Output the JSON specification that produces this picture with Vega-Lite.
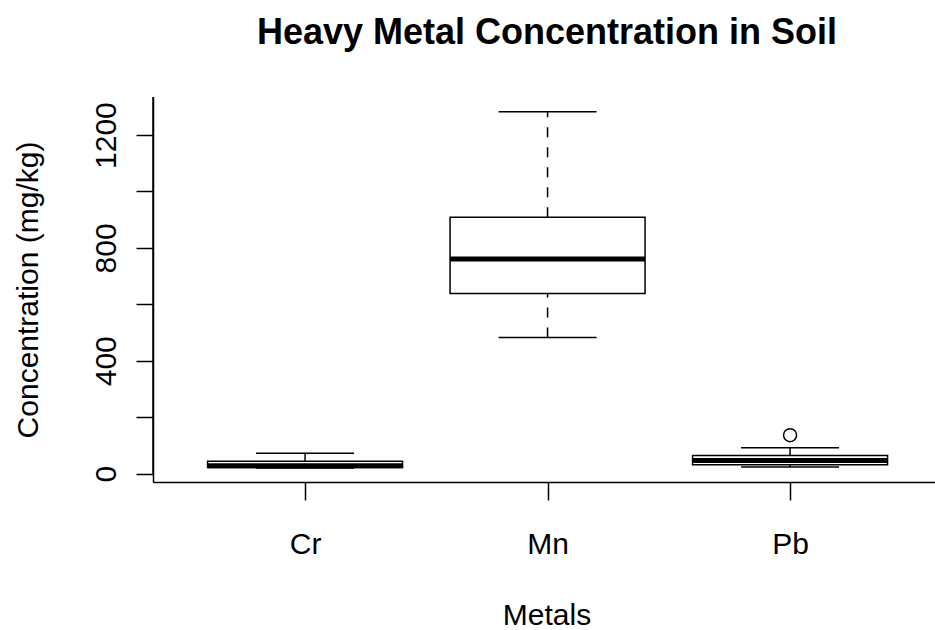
{
  "$schema": "https://vega.github.io/schema/vega-lite/v6.json",
  "autosize": {"type": "none"},
  "width": 782,
  "height": 385,
  "padding": {"left": 153, "top": 97, "right": 0, "bottom": 148},
  "background": "white",
  "config": {"view": {"stroke": null}, "font": "Liberation Sans"},
  "title": {
    "text": "Heavy Metal Concentration in Soil",
    "fontSize": 36,
    "fontWeight": "bold",
    "color": "black",
    "baseline": "alphabetic",
    "offset": 16,
    "frame": "group",
    "anchor": "middle",
    "dx": 3
  },
  "datasets": {
    "boxes": [
      {"metal": "Cr", "lower": 20, "q1": 21, "median": 28, "q3": 44, "upper": 72},
      {"metal": "Mn", "lower": 482, "q1": 638, "median": 761, "q3": 909, "upper": 1283},
      {"metal": "Pb", "lower": 23, "q1": 31, "median": 46, "q3": 64, "upper": 91}
    ],
    "outliers": [
      {"metal": "Pb", "value": 136}
    ]
  },
  "encoding": {
    "x": {
      "field": "metal",
      "type": "nominal",
      "sort": ["Cr", "Mn", "Pb"],
      "scale": {"type": "point", "padding": 0.6124, "align": 0.512, "domain": ["Cr", "Mn", "Pb"]},
      "axis": {
        "orient": "bottom",
        "title": "Metals",
        "labelAngle": 0,
        "grid": false,
        "domainColor": "black",
        "domainWidth": 1.5,
        "tickColor": "black",
        "tickWidth": 1.5,
        "tickSize": 18,
        "labelFontSize": 30,
        "labelColor": "black",
        "labelBaseline": "alphabetic",
        "labelPadding": 53,
        "titleFontSize": 30,
        "titleFontWeight": "normal",
        "titleColor": "black",
        "titleBaseline": "alphabetic",
        "titleY": 142,
        "titleX": 393.5
      }
    }
  },
  "layer": [
    {
      "data": {"name": "boxes"},
      "mark": {"type": "rule", "strokeDash": [10, 10], "strokeWidth": 1.5, "color": "black"},
      "encoding": {
        "y": {
          "field": "q3",
          "type": "quantitative",
          "scale": {"domain": [-30, 1335], "nice": false, "zero": false},
          "axis": {
            "title": "Concentration (mg/kg)",
            "values": [0, 200, 400, 600, 800, 1000, 1200],
            "labelExpr": "datum.value % 400 == 0 ? datum.label : ''",
            "format": "d",
            "grid": false,
            "domainColor": "black",
            "domainWidth": 1.5,
            "tickColor": "black",
            "tickWidth": 1.5,
            "tickSize": 17,
            "labelAngle": 270,
            "labelAlign": "center",
            "labelBaseline": "alphabetic",
            "labelPadding": 21,
            "labelFontSize": 30,
            "labelColor": "black",
            "titleFontSize": 30,
            "titleFontWeight": "normal",
            "titleColor": "black",
            "titleAngle": 270,
            "titleBaseline": "alphabetic",
            "titleX": -116
          }
        },
        "y2": {"field": "upper"}
      }
    },
    {
      "data": {"name": "boxes"},
      "mark": {"type": "rule", "strokeDash": [10, 10], "strokeWidth": 1.5, "color": "black"},
      "encoding": {
        "y": {"field": "lower", "type": "quantitative"},
        "y2": {"field": "q1"}
      }
    },
    {
      "data": {"name": "boxes"},
      "mark": {"type": "bar", "size": 195, "fill": "white", "stroke": "black", "strokeWidth": 1.5},
      "encoding": {
        "y": {"field": "q1", "type": "quantitative"},
        "y2": {"field": "q3"}
      }
    },
    {
      "data": {"name": "boxes"},
      "mark": {"type": "tick", "size": 195, "thickness": 5, "color": "black", "opacity": 1},
      "encoding": {
        "y": {"field": "median", "type": "quantitative"}
      }
    },
    {
      "data": {"name": "boxes"},
      "mark": {"type": "tick", "size": 98, "thickness": 1.5, "color": "black", "opacity": 1},
      "encoding": {
        "y": {"field": "upper", "type": "quantitative"}
      }
    },
    {
      "data": {"name": "boxes"},
      "mark": {"type": "tick", "size": 98, "thickness": 1.5, "color": "black", "opacity": 1},
      "encoding": {
        "y": {"field": "lower", "type": "quantitative"}
      }
    },
    {
      "data": {"name": "outliers"},
      "mark": {"type": "point", "shape": "circle", "filled": false, "size": 170, "strokeWidth": 1.5, "color": "black", "opacity": 1},
      "encoding": {
        "y": {"field": "value", "type": "quantitative"}
      }
    },
    {
      "data": {"values": [{}]},
      "mark": {"type": "rule", "strokeWidth": 1.5, "color": "black"},
      "encoding": {
        "y": {"datum": 1335, "type": "quantitative"}
      }
    }
  ]
}
